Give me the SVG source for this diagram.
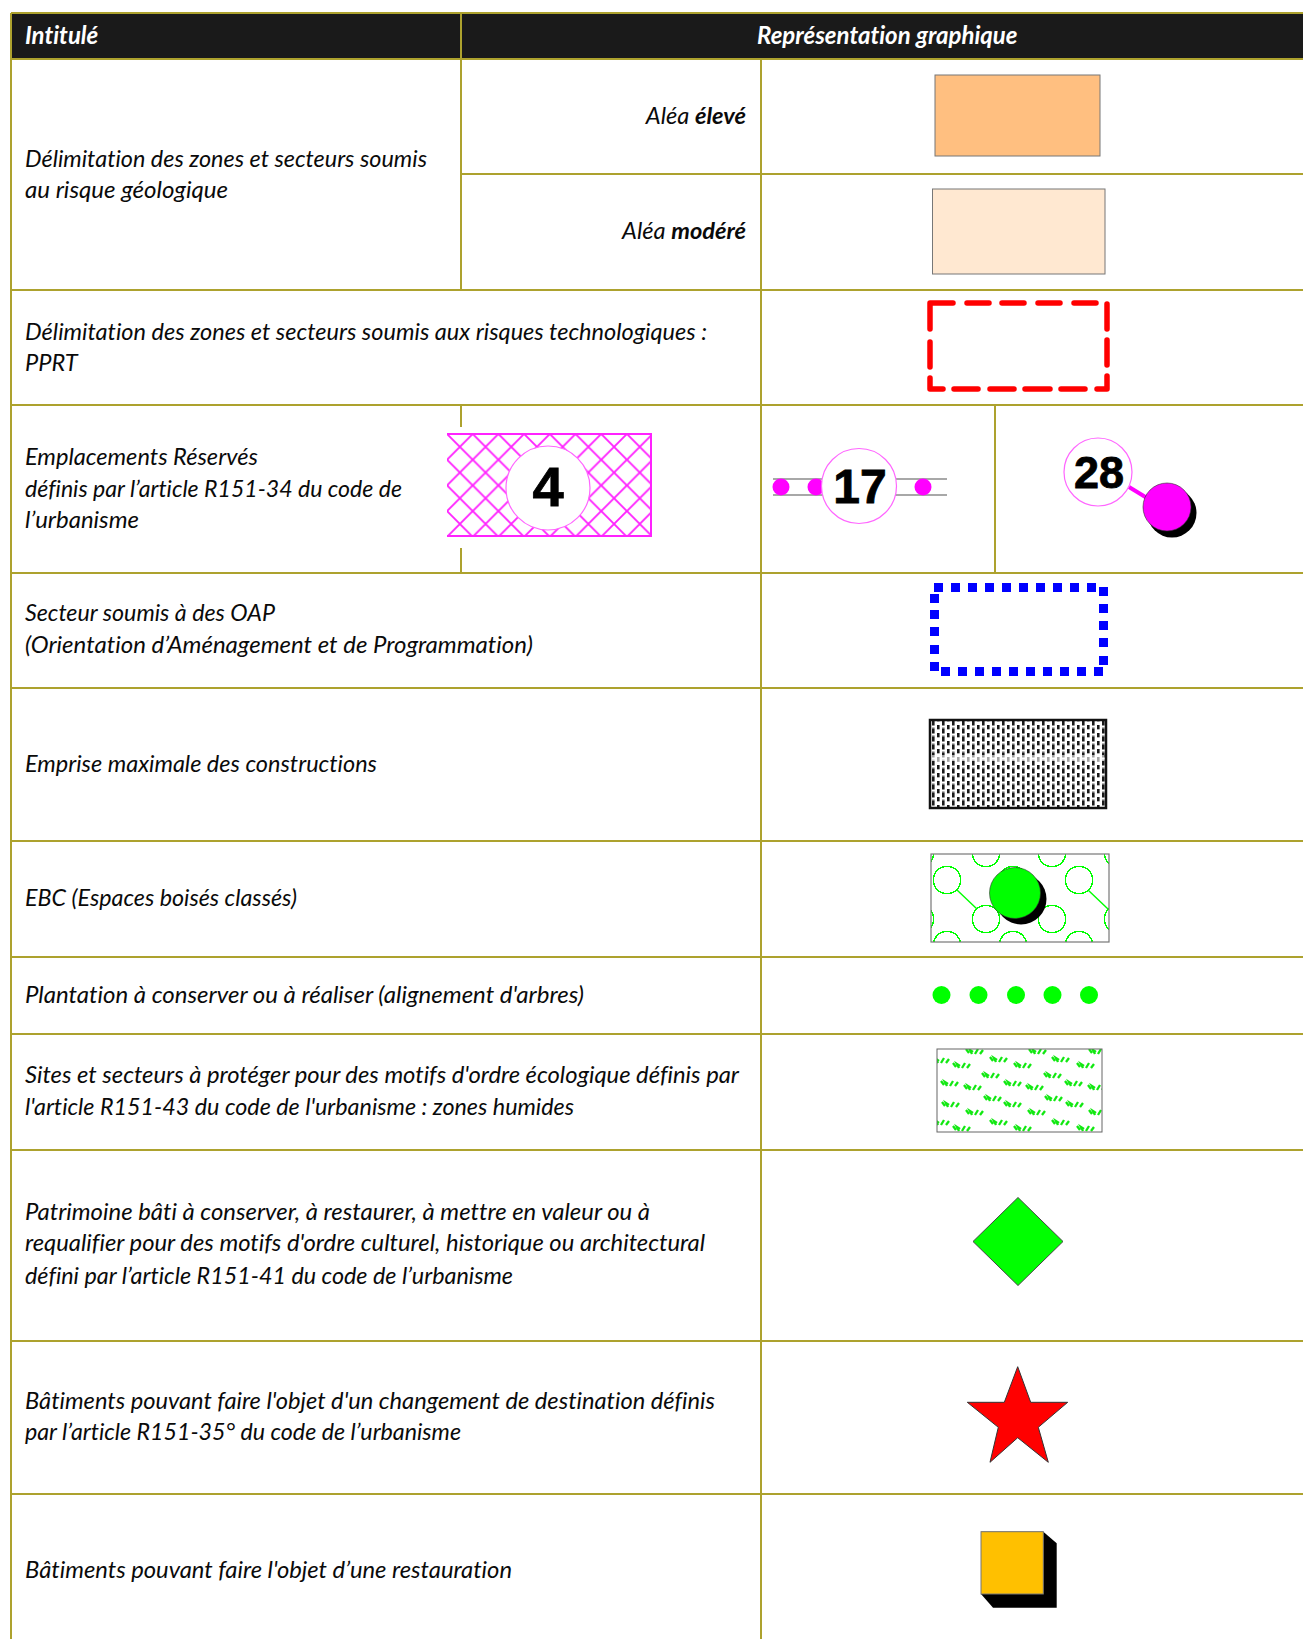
<svg xmlns="http://www.w3.org/2000/svg" width="1303" height="1639" viewBox="0 0 1303 1639">
<style>
text{font-family:"Lato","Liberation Sans",sans-serif;font-style:italic;font-size:23.6px;fill:#0a0a0a;font-variant-ligatures:none}
.h{font-weight:700;fill:#fff;font-size:24px}
.r{text-anchor:end}
.b{font-weight:700}
.n{font-family:"Liberation Sans",Arial,sans-serif;font-style:normal;font-weight:700;fill:#000;text-anchor:middle;stroke:#000;stroke-width:.8}
.g{stroke:#ada22e;stroke-width:2;fill:none}
.ring{fill:#fff;stroke:#ff66ff;stroke-width:1.2}
.mg{fill:#f0f}
.c{fill:none;stroke:#0f0;stroke-width:1.5;shape-rendering:crispEdges}
</style>
<defs>
<pattern id="hatch" patternUnits="userSpaceOnUse" x="447" y="434" width="25.7" height="25.7">
<path d="M-2 2L2-2M-2 27.7L27.7-2M23.7 27.7L27.7 23.7M-2 -2L27.7 27.7" fill="none" stroke="#ff22ff" stroke-width="1.9"/>
</pattern>
<pattern id="stip" patternUnits="userSpaceOnUse" x="931" y="721" width="10" height="8">
<rect width="10" height="8" fill="#fff"/>
<path d="M1 0h2.6v4.4h-2.6zM6 4h2.6v4h-2.6z" fill="#1a1a1a"/>
<path d="M6 0h2.6v.6h-2.6zM1 6.6h2.6v1.4h-2.6z" fill="#666"/>
</pattern>
<clipPath id="ebcClip"><rect x="931" y="854" width="178" height="88"/></clipPath>
<clipPath id="wetClip"><rect x="937" y="1049" width="165" height="83"/></clipPath>
<g id="tuft" fill="none" stroke="#12e812" stroke-width="2.3">
<path d="M-8 -1l3 4M-2 4l-2-4 3 2M1 4l3-5M6 4l3-4"/>
</g>
</defs>
<rect width="1303" height="1639" fill="#fff"/>
<rect id="header-band" x="11" y="13" width="1292" height="46" fill="#1a1a1a"/>

<g id="connectors">
<path class="g" d="M11 13H1303M11 59H1303M462 174H1303M11 290H1303M11 405H1303M11 573H1303M11 688H1303M11 841H1303M11 957H1303M11 1034H1303M11 1150H1303M11 1341H1303M11 1494H1303"/>
<path class="g" d="M11 13V1639M461 13V290M461 405V427M461 548V573M761 59V1639M995 405V573"/>
</g>

<g id="head-1"><text class="h" x="25" y="44">Intitulé</text></g>
<g id="head-2"><text class="h" x="757" y="44">Représentation graphique</text></g>

<g id="row-geol"><text x="25" y="167" textLength="402" lengthAdjust="spacingAndGlyphs">Délimitation des zones et secteurs soumis</text><text x="25" y="198" textLength="203" lengthAdjust="spacingAndGlyphs">au risque géologique</text></g>
<g id="alea-eleve"><text class="r" x="746" y="124">Aléa <tspan class="b">élevé</tspan></text>
<rect x="935" y="75" width="165" height="81" fill="#ffbf80" stroke="#777" stroke-width="1"/></g>
<g id="alea-modere"><text class="r" x="746" y="239">Aléa <tspan class="b">modéré</tspan></text>
<rect x="932.500" y="189" width="172.500" height="85" fill="#ffe8d1" stroke="#777" stroke-width="1"/></g>

<g id="row-pprt"><text x="25" y="340" textLength="682" lengthAdjust="spacingAndGlyphs">Délimitation des zones et secteurs soumis aux risques technologiques :</text><text x="25" y="371">PPRT</text>
<path fill="none" stroke="#f00" stroke-width="5.500" stroke-linecap="round" stroke-linejoin="round" d="M930 329V303H953M967 303H989M1002 303H1024M1038 303H1060M1074 303H1096M1107 304V329M1107 340V365M1107 376V389H1097M1085 389H1061M1050 389H1025M1014 389H990M978 389H954M943 389H930V378M930 367V342"/></g>

<g id="row-er"><text x="25" y="465" textLength="233" lengthAdjust="spacingAndGlyphs">Emplacements Réservés</text><text x="25" y="497" textLength="377" lengthAdjust="spacingAndGlyphs">définis par l’article R151-34 du code de</text><text x="25" y="528" textLength="114" lengthAdjust="spacingAndGlyphs">l’urbanisme</text>
<rect x="447" y="434" width="204" height="102" fill="url(#hatch)"/>
<path d="M447 434H651V536H447" fill="none" stroke="#ff22ff" stroke-width="2"/>
<circle cx="548" cy="488" r="42" class="ring"/>
<text class="n" x="548" y="506" style="font-size:56px">4</text></g>
<g id="er-17">
<path d="M773 479H947M773 495H947" stroke="#a8a8a8" stroke-width="2" fill="none"/>
<circle class="mg" cx="781" cy="487" r="8.500"/><circle class="mg" cx="816" cy="487" r="8.500"/><circle class="mg" cx="923" cy="487" r="8.500"/>
<circle cx="859" cy="486" r="37.500" class="ring"/>
<text class="n" x="860" y="503" style="font-size:48px">17</text></g>
<g id="er-28">
<path d="M1129 487L1147 498" stroke="#f0f" stroke-width="4"/>
<circle cx="1172" cy="513" r="24.500" fill="#000"/><circle class="mg" cx="1167" cy="507" r="24" stroke="#333" stroke-width=".6"/>
<circle cx="1098" cy="472" r="34" class="ring"/>
<text class="n" x="1099" y="488" style="font-size:45px">28</text></g>

<g id="row-oap"><text x="25" y="621" textLength="250" lengthAdjust="spacingAndGlyphs">Secteur soumis à des OAP</text><text x="25" y="653" textLength="508" lengthAdjust="spacingAndGlyphs">(Orientation d’Aménagement et de Programmation)</text>
<path fill="#00f" d="M934 583h9v9h-9zM951 583h9v9h-9zM968 583h9v9h-9zM985 583h9v9h-9zM1002 583h9v9h-9zM1019 583h9v9h-9zM1036 583h9v9h-9zM1053 583h9v9h-9zM1070 583h9v9h-9zM1087 583h9v9h-9zM1099 587h9v9h-9zM1099 604h9v9h-9zM1099 621h9v9h-9zM1099 638h9v9h-9zM1099 656h9v9h-9zM941 667h9v9h-9zM958 667h9v9h-9zM975 667h9v9h-9zM992 667h9v9h-9zM1009 667h9v9h-9zM1026 667h9v9h-9zM1043 667h9v9h-9zM1060 667h9v9h-9zM1077 667h9v9h-9zM1094 667h9v9h-9zM930 594h9v9h-9zM930 610h9v9h-9zM930 627h9v9h-9zM930 645h9v9h-9zM930 662h9v9h-9z"/></g>

<g id="row-emprise"><text x="25" y="772" textLength="352" lengthAdjust="spacingAndGlyphs">Emprise maximale des constructions</text>
<rect x="930" y="720" width="176" height="88" fill="url(#stip)" stroke="#111" stroke-width="2.500"/>
<rect x="932" y="755" width="172" height="6" fill="#fff" opacity=".6"/></g>

<g id="row-ebc"><text x="25" y="906" textLength="272" lengthAdjust="spacingAndGlyphs">EBC (Espaces boisés classés)</text>
<g clip-path="url(#ebcClip)">
<circle class="c" cx="920" cy="853" r="13.700"/><circle class="c" cx="986" cy="853" r="13.700"/><circle class="c" cx="1052" cy="853" r="13.700"/><circle class="c" cx="1118" cy="853" r="13.700"/>
<circle class="c" cx="947" cy="880" r="13.700"/><circle class="c" cx="1013" cy="880" r="13.700"/><circle class="c" cx="1079" cy="880" r="13.700"/>
<circle class="c" cx="920" cy="919" r="13.700"/><circle class="c" cx="986" cy="919" r="13.700"/><circle class="c" cx="1052" cy="919" r="13.700"/><circle class="c" cx="1118" cy="919" r="13.700"/>
<circle class="c" cx="947" cy="945" r="13.700"/><circle class="c" cx="1013" cy="945" r="13.700"/><circle class="c" cx="1079" cy="945" r="13.700"/>
<path d="M957 890L977 909M1088 890L1108 909" stroke="#0f0" stroke-width="1.400"/>
</g>
<rect x="931" y="854" width="178" height="88" fill="none" stroke="#777" stroke-width="1.200"/>
<circle cx="1021" cy="899" r="25.500" fill="#000"/>
<circle cx="1015" cy="893" r="25.500" fill="#0f0" stroke="#333" stroke-width=".6"/></g>

<g id="row-plantation"><text x="25" y="1003" textLength="559" lengthAdjust="spacingAndGlyphs">Plantation à conserver ou à réaliser (alignement d'arbres)</text>
<g fill="#0f0"><circle cx="941.500" cy="995" r="9"/><circle cx="978.500" cy="995" r="9"/><circle cx="1016" cy="995" r="9"/><circle cx="1052.500" cy="995" r="9"/><circle cx="1089" cy="995" r="9"/></g></g>

<g id="row-humides"><text x="25" y="1083" textLength="714" lengthAdjust="spacingAndGlyphs">Sites et secteurs à protéger pour des motifs d'ordre écologique définis par</text><text x="25" y="1115" textLength="549" lengthAdjust="spacingAndGlyphs">l'article R151-43 du code de l'urbanisme : zones humides</text>
<g clip-path="url(#wetClip)">
<use href="#tuft" x="974" y="1050"/><use href="#tuft" x="1037" y="1050"/><use href="#tuft" x="1097" y="1050"/>
<use href="#tuft" x="940" y="1059"/><use href="#tuft" x="998" y="1058"/><use href="#tuft" x="1060" y="1058"/>
<use href="#tuft" x="961" y="1064"/><use href="#tuft" x="1022" y="1064"/><use href="#tuft" x="1085" y="1064"/>
<use href="#tuft" x="990" y="1074"/><use href="#tuft" x="1052" y="1074"/>
<use href="#tuft" x="949" y="1082"/><use href="#tuft" x="1012" y="1082"/><use href="#tuft" x="1073" y="1082"/>
<use href="#tuft" x="972" y="1086"/><use href="#tuft" x="1034" y="1086"/><use href="#tuft" x="1096" y="1086"/>
<use href="#tuft" x="992" y="1097"/><use href="#tuft" x="1053" y="1097"/>
<use href="#tuft" x="950" y="1103"/><use href="#tuft" x="1012" y="1103"/><use href="#tuft" x="1074" y="1103"/>
<use href="#tuft" x="974" y="1111"/><use href="#tuft" x="1036" y="1111"/><use href="#tuft" x="1097" y="1111"/>
<use href="#tuft" x="940" y="1121"/><use href="#tuft" x="998" y="1121"/><use href="#tuft" x="1060" y="1121"/>
<use href="#tuft" x="961" y="1127"/><use href="#tuft" x="1022" y="1127"/><use href="#tuft" x="1085" y="1127"/>
</g>
<rect x="937" y="1049" width="165" height="83" fill="none" stroke="#666" stroke-width="1"/></g>

<g id="row-patrimoine"><text x="25" y="1220" textLength="625" lengthAdjust="spacingAndGlyphs">Patrimoine bâti à conserver, à restaurer, à mettre en valeur ou à</text><text x="25" y="1251" textLength="680" lengthAdjust="spacingAndGlyphs">requalifier pour des motifs d'ordre culturel, historique ou architectural</text><text x="25" y="1284" textLength="488" lengthAdjust="spacingAndGlyphs">défini par l’article R151-41 du code de l’urbanisme</text>
<polygon points="1018,1197.500 1063,1241.500 1018,1285.500 973,1241.500" fill="#0f0" stroke="#444" stroke-width="1"/></g>

<g id="row-changement"><text x="25" y="1409" textLength="690" lengthAdjust="spacingAndGlyphs">Bâtiments pouvant faire l'objet d'un changement de destination définis</text><text x="25" y="1440" textLength="436" lengthAdjust="spacingAndGlyphs">par l’article R151-35° du code de l’urbanisme</text>
<polygon points="1017.700,1366.700 1030.700,1402.300 1067.700,1402.300 1038.300,1427.300 1048.300,1462.300 1017.700,1437.700 990,1462.300 998.300,1427.300 967.300,1402.300 1004.300,1402.300" fill="#f00" stroke="#333" stroke-width="1"/></g>

<g id="row-restauration"><text x="25" y="1578" textLength="487" lengthAdjust="spacingAndGlyphs">Bâtiments pouvant faire l'objet d’une restauration</text>
<polygon points="981,1531.700 1043.300,1531.700 1056.700,1543.300 1056.700,1607.700 993,1607.700 981,1594" fill="#000"/>
<rect x="981" y="1531.700" width="62.300" height="62.300" fill="#ffc000" stroke="#777" stroke-width="1"/></g>
</svg>
